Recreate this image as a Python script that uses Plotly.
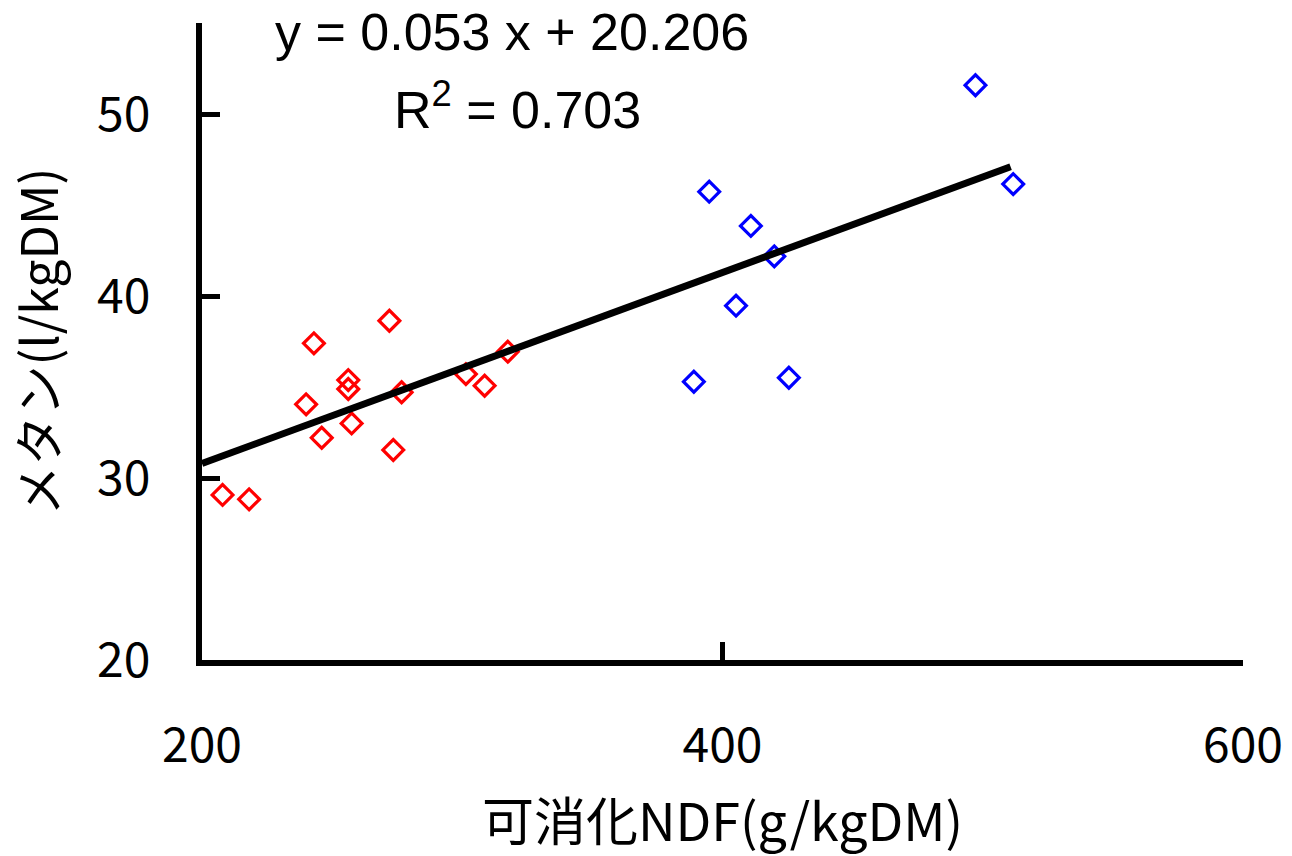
import plotly.graph_objects as go

# Red group (low NDF)
red_x = [207.9, 218.1, 243.0, 272.0, 240.0, 256.2, 256.2, 246.0, 257.5, 273.5, 276.7, 301.4, 308.6, 317.5]
red_y = [29.07, 28.83, 37.40, 38.64, 34.05, 35.38, 34.89, 32.21, 33.00, 31.54, 34.71, 35.71, 35.07, 36.94]

# Blue group (high NDF)
blue_x = [497.2, 394.9, 410.9, 419.9, 405.2, 389.0, 425.5, 511.7]
blue_y = [51.58, 45.73, 43.85, 42.18, 39.47, 35.29, 35.51, 46.15]

# Trend line end points
trend_x = [200.0, 510.7]
trend_y = [30.8, 47.1]

x_ticks = [200, 400, 600]
y_ticks = [20, 30, 40, 50]

eq_text = "y = 0.053 x + 20.206"
r2_text = "R<sup>2</sup> = 0.703"
x_title = "可消化NDF(g/kgDM)"
y_title = "メタン(l/kgDM)"

fig = go.Figure()
fig.add_trace(go.Scatter(x=red_x, y=red_y, mode="markers",
                         marker=dict(symbol="diamond-open", size=16, color="#FF0000",
                                     line=dict(width=3.2, color="#FF0000")),
                         showlegend=False))
fig.add_trace(go.Scatter(x=blue_x, y=blue_y, mode="markers",
                         marker=dict(symbol="diamond-open", size=16, color="#0000FF",
                                     line=dict(width=3.2, color="#0000FF")),
                         showlegend=False))
fig.add_trace(go.Scatter(x=trend_x, y=trend_y, mode="lines",
                         line=dict(color="black", width=7), showlegend=False))

label_font = dict(family="Noto Sans CJK JP", size=48, color="black")

fig.update_layout(
    width=1292, height=856,
    margin=dict(l=202, r=49, t=23, b=196),
    paper_bgcolor="white", plot_bgcolor="white",
    xaxis=dict(range=[200, 600], tickvals=x_ticks, ticktext=[str(v) for v in x_ticks],
               showgrid=False, zeroline=False, showline=True, linecolor="black", linewidth=6,
               ticks="inside", ticklen=18, tickwidth=5, tickcolor="black",
               tickfont=label_font, ticklabelstandoff=38, automargin=False,
               title=dict(text=x_title, font=dict(family="Noto Sans CJK JP", size=52, color="black"),
                          standoff=54)),
    yaxis=dict(range=[20, 55], tickvals=y_ticks, ticktext=[str(v) for v in y_ticks],
               showgrid=False, zeroline=False, showline=True, linecolor="black", linewidth=6,
               ticks="inside", ticklen=18, tickwidth=5, tickcolor="black",
               tickfont=label_font, ticklabelstandoff=36, automargin=False,
               title=dict(text=y_title, font=dict(family="Noto Sans CJK JP", size=50, color="black"),
                          standoff=50)),
    annotations=[
        dict(text=eq_text, xref="paper", yref="paper", x=(512 - 202) / 1041, y=(660 - 32) / 637,
             xanchor="center", yanchor="middle", showarrow=False, borderpad=0,
             font=dict(family="Liberation Sans", size=52, color="black")),
        dict(text=r2_text, xref="paper", yref="paper", x=(517 - 202) / 1041, y=(660 - 106) / 637,
             xanchor="center", yanchor="middle", showarrow=False, borderpad=0,
             font=dict(family="Liberation Sans", size=52, color="black")),
    ],
)

fig.write_html("out.html")
